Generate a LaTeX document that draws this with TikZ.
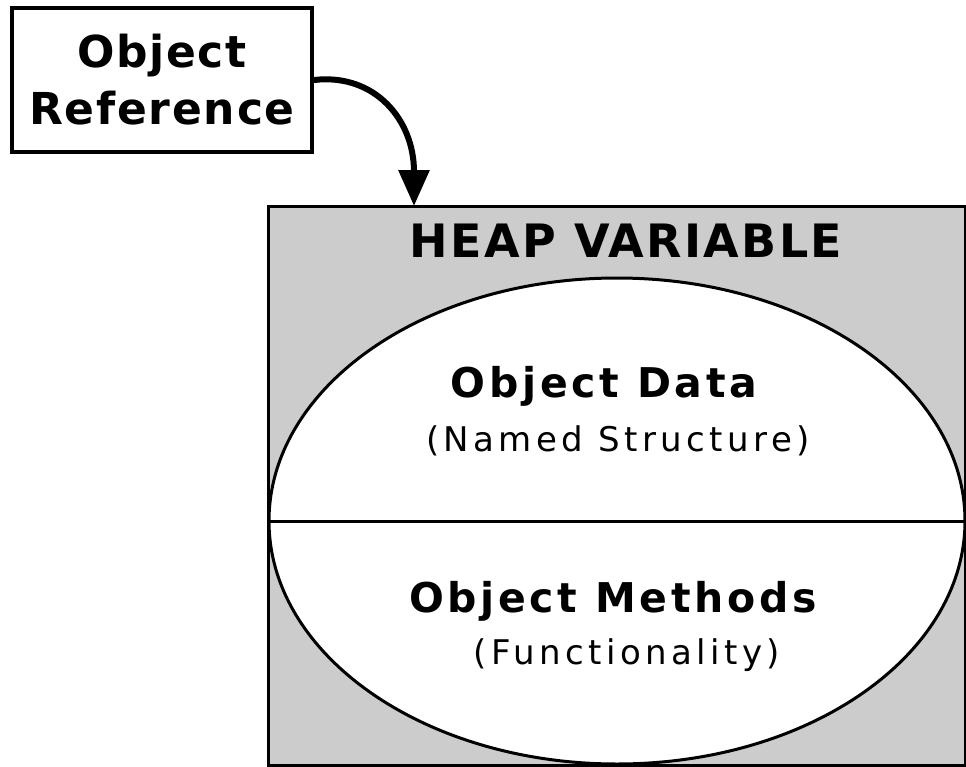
\documentclass[tikz,border=0pt]{standalone}
\usepackage{fontspec}
\setmainfont{DejaVu Sans}
\usetikzlibrary{arrows.meta}
\begin{document}
\begin{tikzpicture}[x=0.5pt,y=-0.5pt,
		heading/.style={font=\bfseries\fontsize{23}{27}\selectfont\addfontfeatures{LetterSpace=5}},
		title/.style={font=\bfseries\fontsize{20.5}{25}\selectfont\addfontfeatures{LetterSpace=9}},
		sub/.style={font=\fontsize{17}{20}\selectfont\addfontfeatures{LetterSpace=13}}]
	\useasboundingbox (0,0) rectangle (966,767);
	% heap variable with the object inside
	\draw[line width=1.5pt,fill=black!20] (268,206) rectangle (965,765);
	\draw[line width=1.5pt,fill=white] (617,521) ellipse [x radius=174pt,y radius=121.5pt];
	\draw[line width=1.5pt] (269,521) -- (965,521);
	\node[heading] (heap) at (626,241) {HEAP VARIABLE};
	\node[title] (data) at (604,386) {Object Data};
	\node[sub] (named) at (618,441) {(Named Structure)};
	\node[title] (methods) at (613,601) {Object Methods};
	\node[sub] (func) at (627,655) {(Functionality)};
	% reference pointing to it
	\node[draw,line width=2pt,align=center,minimum width=150pt,minimum height=72pt,
		font=\bfseries\fontsize{22}{28.5}\selectfont\addfontfeatures{LetterSpace=4}] (ref) at (162,80) {Object\\Reference};
	\coordinate (entry) at (414,206);
	\draw[line width=3pt,-{Triangle[length=18pt,width=15pt]}] (ref.east) .. controls (375,73) and (414,120) .. (entry);
\end{tikzpicture}
\end{document}
